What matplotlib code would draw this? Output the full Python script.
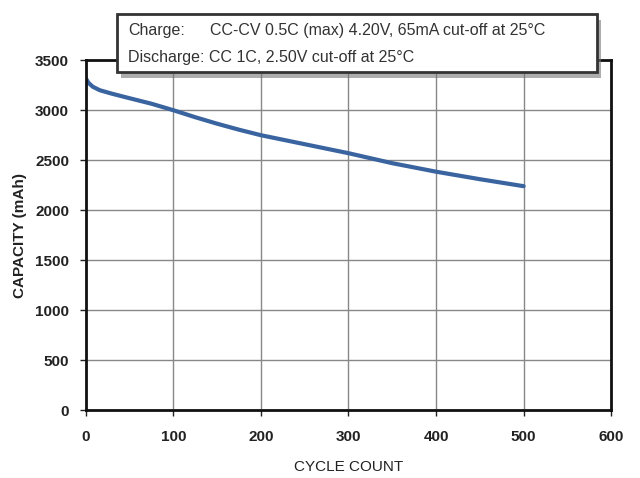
import matplotlib.pyplot as plt
import matplotlib.patches as mpatches
import matplotlib.patheffects as pe

# Cycle life data
cycles = [0, 3, 8, 16, 30, 50, 75, 100, 125, 150, 175, 200, 250, 300, 350, 400, 450, 500]
capacity = [3320, 3275, 3235, 3200, 3165, 3120, 3065, 3000, 2930, 2865, 2805, 2750,
            2660, 2570, 2470, 2385, 2310, 2240]

x_ticks = [0, 100, 200, 300, 400, 500, 600]
y_ticks = [0, 500, 1000, 1500, 2000, 2500, 3000, 3500]

charge_label = "Charge:"
charge_text = "CC-CV 0.5C (max) 4.20V, 65mA cut-off at 25\u00b0C"
discharge_text = "Discharge: CC 1C, 2.50V cut-off at 25\u00b0C"

plt.rcParams['font.family'] = ['Liberation Sans', 'DejaVu Sans']

fig = plt.figure(figsize=(6.4, 4.78), dpi=100)
ax = fig.add_axes([0.134, 0.142, 0.821, 0.732])

ax.plot(cycles, capacity, color='#3a64a0', linewidth=3, solid_capstyle='round')

ax.set_xlim(0, 600)
ax.set_ylim(0, 3500)
ax.set_xticks(x_ticks)
ax.set_yticks(y_ticks)
ax.tick_params(axis='both', labelsize=11, colors='#222222', direction='out',
               length=4, width=1)
ax.tick_params(axis='x', pad=10)
ax.tick_params(axis='y', pad=8)
for lbl in ax.get_xticklabels() + ax.get_yticklabels():
    lbl.set_fontweight('bold')
ax.grid(True, color='#888888', linewidth=1)
for s in ax.spines.values():
    s.set_linewidth(2)
    s.set_color('#111111')

ax.set_xlabel('CYCLE COUNT', fontsize=11, color='#222222', labelpad=12)
ax.set_ylabel('CAPACITY (mAh)', fontsize=11, color='#222222', fontweight='bold', labelpad=6)

# annotation box with drop shadow, sitting over the top of the plot
box = mpatches.Rectangle((117 / 640, 1 - 72 / 478), 480 / 640, 58 / 478,
                         transform=fig.transFigure, facecolor='white',
                         edgecolor='#333333', linewidth=2, zorder=5,
                         path_effects=[pe.SimplePatchShadow(offset=(3, -4), shadow_rgbFace='#777777', alpha=0.6),
                                       pe.Normal()])
fig.patches.append(box)

fig.text(128 / 640, 1 - 30 / 478, charge_label, fontsize=11.5, color='#333333',
         va='center', zorder=6)
fig.text(210 / 640, 1 - 30 / 478, charge_text, fontsize=11.5, color='#333333',
         va='center', zorder=6)
fig.text(128 / 640, 1 - 57 / 478, discharge_text, fontsize=11.5, color='#333333',
         va='center', zorder=6)

fig.savefig('out.png', dpi=100, facecolor='white')
